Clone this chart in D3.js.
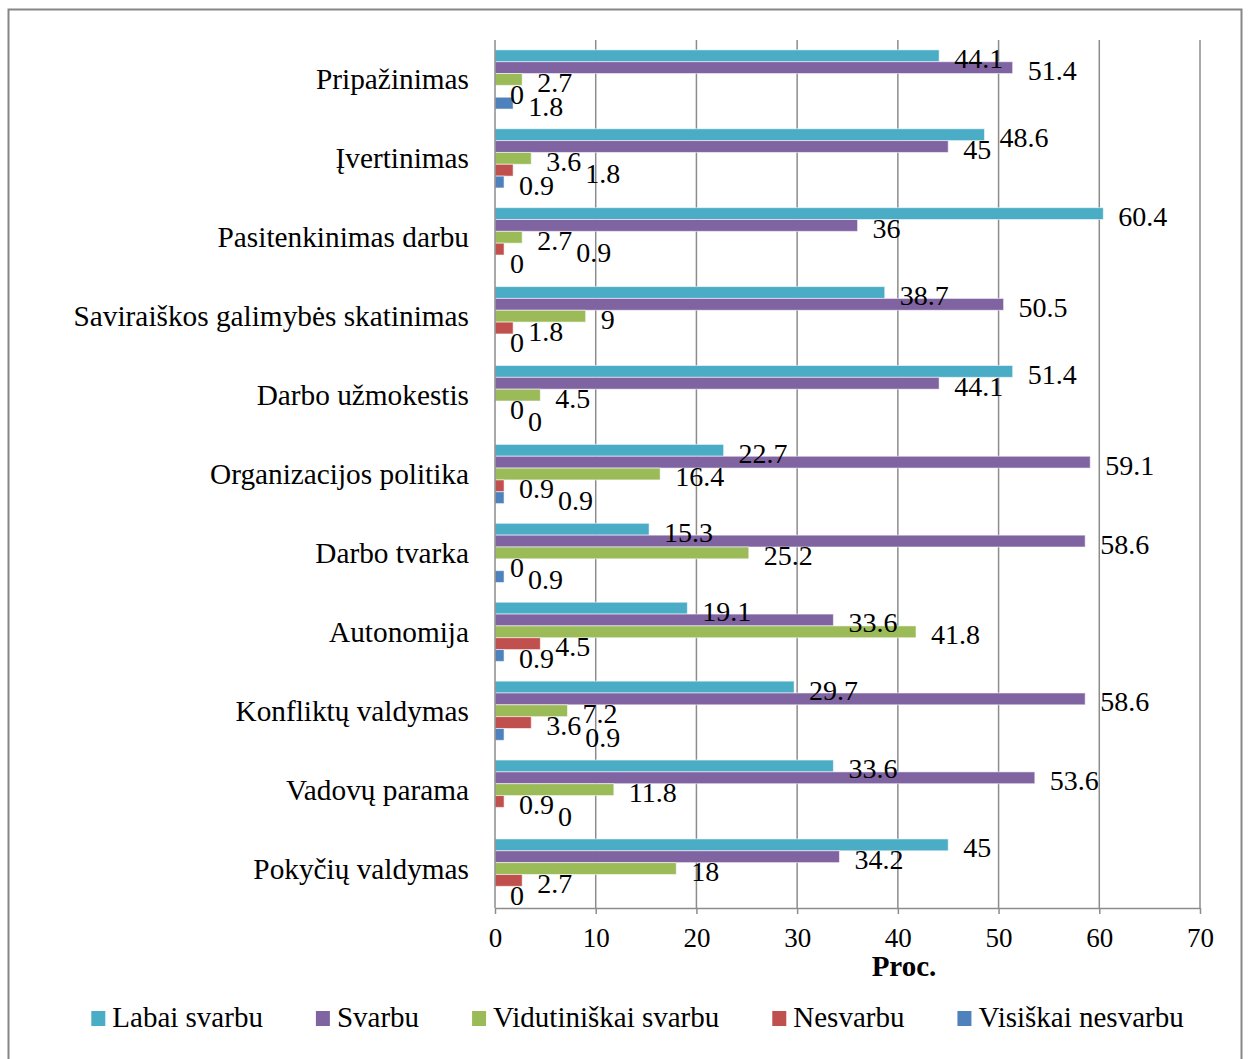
<!DOCTYPE html>
<html>
<head>
<meta charset="utf-8">
<script src="https://cdn.jsdelivr.net/npm/d3@7"></script>
<style>
  html, body { margin: 0; padding: 0; background: #fff; }
  svg { display: block; }
  text { font-family: "Liberation Serif", "Times New Roman", serif; fill: #000; }
</style>
</head>
<body>
<svg id="chart" width="1248" height="1059"></svg>
<script>
// Factors, top to bottom
const categories = [
  "Pripažinimas",
  "Įvertinimas",
  "Pasitenkinimas darbu",
  "Saviraiškos galimybės skatinimas",
  "Darbo užmokestis",
  "Organizacijos politika",
  "Darbo tvarka",
  "Autonomija",
  "Konfliktų valdymas",
  "Vadovų parama",
  "Pokyčių valdymas"
];

// Answer groups (series), in drawing order within each category
const seriesNames = ["Labai svarbu", "Svarbu", "Vidutiniškai svarbu", "Nesvarbu", "Visiškai nesvarbu"];

// Share of respondents, %, per category (same order as categories)
const labaiSvarbu        = [44.1, 48.6, 60.4, 38.7, 51.4, 22.7, 15.3, 19.1, 29.7, 33.6, 45];
const svarbu             = [51.4, 45, 36, 50.5, 44.1, 59.1, 58.6, 33.6, 58.6, 53.6, 34.2];
const vidutiniskaiSvarbu = [2.7, 3.6, 2.7, 9, 4.5, 16.4, 25.2, 41.8, 7.2, 11.8, 18];
const nesvarbu           = [0, 1.8, 0.9, 1.8, 0, 0.9, 0, 4.5, 3.6, 0.9, 2.7];
const visiskaiNesvarbu   = [1.8, 0.9, 0, 0, 0, 0.9, 0.9, 0.9, 0.9, 0, 0];

const seriesValues = [labaiSvarbu, svarbu, vidutiniskaiSvarbu, nesvarbu, visiskaiNesvarbu];
const seriesColors = ["#4BACC6", "#8064A2", "#9BBB59", "#C0504D", "#4F81BD"];

const xTicks = [0, 10, 20, 30, 40, 50, 60, 70];
const xTitle = "Proc.";

const svg = d3.select("#chart");

// Outer chart frame
svg.append("rect")
  .attr("x", 8.5).attr("y", 9.5)
  .attr("width", 1233).attr("height", 1060)
  .attr("fill", "#fff")
  .attr("stroke", "#868686")
  .attr("stroke-width", 2);

const plot = { left: 495, right: 1200, top: 40, bottom: 908 };

const x = d3.scaleLinear().domain([0, 70]).range([plot.left, plot.right]);
const y = d3.scaleBand().domain(categories).range([plot.top, plot.bottom]).paddingInner(0.25).paddingOuter(0.125);
const ySub = d3.scaleBand().domain(seriesNames).range([0, y.bandwidth()]);

// Vertical gridlines
svg.append("g")
  .selectAll("line")
  .data(xTicks.filter(t => t > 0))
  .join("line")
  .attr("x1", d => x(d)).attr("x2", d => x(d))
  .attr("y1", plot.top).attr("y2", plot.bottom)
  .attr("stroke", "#8c8c8c")
  .attr("stroke-width", 1.5);

// Bars
const rows = categories.map((c, i) => seriesNames.map((s, j) => ({ cat: c, series: s, j, value: seriesValues[j][i] })));

const groups = svg.append("g")
  .selectAll("g")
  .data(rows)
  .join("g")
  .attr("transform", (d, i) => `translate(0,${y(categories[i])})`);

groups.selectAll("rect")
  .data(d => d)
  .join("rect")
  .attr("x", x(0))
  .attr("y", d => ySub(d.series))
  .attr("width", d => x(d.value) - x(0))
  .attr("height", ySub.bandwidth())
  .attr("fill", d => seriesColors[d.j])
  .attr("stroke", d => d.value > 0 ? "rgba(255,255,255,0.55)" : "none")
  .attr("stroke-width", 1);

// Data labels, just past the end of each bar
const labelGap = 15;
groups.each(function () {
  const g = d3.select(this);
  const labels = g.selectAll("text")
    .data(d => d)
    .join("text")
    .attr("x", d => x(d.value) + labelGap)
    .attr("y", d => ySub(d.series) + ySub.bandwidth() / 2 + 3)
    .attr("dominant-baseline", "central")
    .attr("font-size", 28)
    .text(d => String(d.value));

  // Nudge small-value labels to the right when they would collide with a
  // label of a neighbouring bar in the same group
  const placed = [];
  labels.each(function () {
    const t = d3.select(this);
    const w = this.getComputedTextLength();
    const cy = +t.attr("y");
    let lx = +t.attr("x");
    let moved = true;
    while (moved) {
      moved = false;
      for (const p of placed) {
        const vOverlap = Math.abs(p.cy - cy) < 19;
        const hOverlap = lx < p.x1 - 3 && lx + w > p.x0 + 3;
        if (vOverlap && hOverlap) {
          lx = p.x1 + 4;
          moved = true;
        }
      }
    }
    t.attr("x", lx);
    placed.push({ x0: lx, x1: lx + w, cy });
  });
});

// Y axis line
svg.append("line")
  .attr("x1", plot.left).attr("x2", plot.left)
  .attr("y1", plot.top).attr("y2", plot.bottom)
  .attr("stroke", "#8c8c8c")
  .attr("stroke-width", 1.5);

// Category labels
svg.append("g")
  .selectAll("text")
  .data(categories)
  .join("text")
  .attr("x", 469)
  .attr("y", d => y(d) + y.bandwidth() / 2)
  .attr("text-anchor", "end")
  .attr("dominant-baseline", "central")
  .attr("font-size", 29.3)
  .text(d => d);

// X axis
const xAxis = svg.append("g")
  .attr("transform", `translate(0,${plot.bottom})`)
  .call(d3.axisBottom(x).tickValues(xTicks).tickSize(6).tickPadding(14).tickSizeOuter(0));
xAxis.select(".domain").attr("stroke", "#8c8c8c").attr("stroke-width", 1.5);
xAxis.selectAll(".tick line").attr("stroke", "#8c8c8c").attr("stroke-width", 1.5);
xAxis.selectAll(".tick text")
  .attr("font-family", "Liberation Serif, Times New Roman, serif")
  .attr("font-size", 27)
  .attr("fill", "#000");

// Axis title
svg.append("text")
  .attr("x", 904).attr("y", 976)
  .attr("text-anchor", "middle")
  .attr("font-size", 29)
  .attr("font-weight", "bold")
  .text(xTitle);

// Legend, laid out from measured text widths and centred
const legend = svg.append("g");
const items = legend.selectAll("g")
  .data(seriesNames)
  .join("g");
items.append("rect")
  .attr("width", 14).attr("height", 15)
  .attr("y", -15)
  .attr("fill", (d, i) => seriesColors[i]);
items.append("text")
  .attr("x", 21)
  .attr("y", 1)
  .attr("font-size", 29)
  .text(d => d);

let offset = 0;
const gap = 53;
items.each(function () {
  const w = d3.select(this).select("text").node().getComputedTextLength();
  d3.select(this).attr("transform", `translate(${offset},0)`);
  offset += 21 + w + gap;
});
const totalW = offset - gap;
legend.attr("transform", `translate(${637.5 - totalW / 2},1026)`);
</script>
</body>
</html>
